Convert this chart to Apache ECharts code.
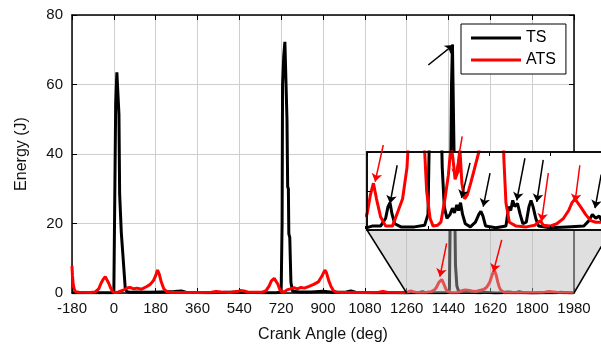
<!DOCTYPE html>
<html><head><meta charset="utf-8">
<script src="https://cdn.jsdelivr.net/npm/echarts@6/dist/echarts.min.js"></script>
<style>html,body{margin:0;padding:0;background:#fff}#c{width:601px;height:348px}</style>
</head><body><div id="c"></div>
<script>
// ---- data: [crank angle (deg), energy (J)] ----
const tsData = [[-180,0.05],[-100,0.05],[-20,0.05],[0,0.1],[6,0.3],[8,54.5],[13,63.5],[18,63.5],[22,51.5],[25,28.5],[29,28],[32,17.5],[36,17],[40,10],[44,9.5],[49,1.5],[55,0.4],[70,0.2],[100,0.3],[150,0.2],[200,0.3],[260,0.4],[290,0.6],[310,0.2],[400,0.1],[540,0.3],[560,0.2],[640,0.1],[700,0.1],[720,0.3],[724,20],[726,60],[731,68],[736,72.3],[741,72],[745,50],[748,30.6],[751,30],[753,17],[757,16],[762,3],[769,0.5],[800,0.3],[850,0.3],[900,0.5],[940,0.2],[1000,0.3],[1020,0.6],[1040,0.2],[1100,0.1],[1200,0.05],[1260,0.03],[1275,0.05],[1300,0.05],[1315,0.15],[1322,0.3],[1328,0.35],[1334,0.2],[1342,0.08],[1360,0.04],[1400,0.04],[1430,0.06],[1440,0.2],[1444,1.2],[1448,25],[1453,60],[1457,71.5],[1461,71.5],[1465,35],[1470,8],[1476,2],[1482,0.8],[1488,0.3],[1496,0.15],[1505,0.2],[1512,0.28],[1518,0.22],[1525,0.32],[1530,0.25],[1536,0.35],[1542,0.2],[1550,0.08],[1565,0.04],[1580,0.1],[1590,0.2],[1596,0.24],[1602,0.18],[1610,0.05],[1640,0.03],[1670,0.05],[1678,0.3],[1684,0.25],[1690,0.38],[1696,0.3],[1704,0.34],[1712,0.2],[1720,0.08],[1730,0.1],[1738,0.3],[1744,0.38],[1750,0.3],[1758,0.15],[1766,0.05],[1800,0.03],[1850,0.04],[1900,0.05],[1915,0.12],[1925,0.2],[1935,0.15],[1945,0.18],[1960,0.06],[1980,0.05]];

const atsData = [[-180,7.8],[-178,5],[-175,2.5],[-170,1],[-165,0.4],[-150,0.2],[-100,0.15],[-80,0.3],[-65,1.2],[-55,2.8],[-45,4],[-37,4.7],[-30,4.2],[-22,2.8],[-12,1.2],[-4,0.3],[5,0.1],[20,0.3],[40,0.8],[60,1.5],[70,1.6],[85,1.2],[100,1.4],[120,1.1],[140,1.8],[155,2.4],[170,3.5],[180,5],[188,6.6],[195,5.5],[205,3],[215,1.2],[228,0.4],[245,0.2],[300,0.15],[380,0.15],[420,0.2],[440,0.45],[460,0.3],[500,0.15],[530,0.4],[545,0.7],[560,0.6],[575,0.3],[600,0.2],[640,0.25],[655,0.7],[668,2],[678,3.5],[690,4.2],[698,3.8],[706,2.5],[714,1],[722,0.3],[735,0.4],[745,0.9],[760,1.2],[775,1.5],[790,1.2],[805,1.6],[820,1.4],[840,1.9],[860,2.5],[880,3.2],[895,4.8],[908,6.6],[915,5.8],[925,3.5],[935,1.8],[946,0.6],[960,0.2],[1000,0.15],[1060,0.15],[1100,0.15],[1140,0.2],[1158,0.45],[1175,0.2],[1240,0.15],[1260,0.2],[1270,0.45],[1279,0.6],[1288,0.4],[1300,0.17],[1315,0.05],[1335,0.05],[1348,0.2],[1365,0.4],[1378,0.8],[1388,1.6],[1398,3],[1411,3.9],[1420,2.6],[1428,1.2],[1436,0.5],[1446,0.15],[1455,0.05],[1468,0.06],[1478,0.1],[1490,0.4],[1500,0.7],[1508,1.1],[1514,0.9],[1520,0.65],[1528,0.75],[1534,1.05],[1540,0.6],[1548,0.4],[1556,0.45],[1566,0.6],[1578,0.8],[1590,1.0],[1600,1.4],[1608,2],[1618,3.2],[1628,5.3],[1637,6.6],[1645,5.2],[1652,3.2],[1658,1.8],[1664,0.9],[1670,0.35],[1680,0.1],[1700,0.05],[1730,0.04],[1755,0.06],[1765,0.1],[1772,0.12],[1780,0.06],[1800,0.05],[1820,0.08],[1840,0.15],[1855,0.25],[1865,0.35],[1874,0.4],[1880,0.36],[1890,0.3],[1905,0.2],[1920,0.12],[1935,0.1],[1950,0.1],[1965,0.08],[1980,0.08]];

const xRange = [-180, 1980], xStep = 180;
const yRange = [0, 80], yStep = 20;
const insetXRange = [1260, 1980];
const insetYRange = [0, 1], insetYStep = 0.5;
const legendNames = ['TS', 'ATS'];
const xTitle = 'Crank Angle (deg)', yTitle = 'Energy (J)';

// annotation arrows [tail, head] in data coordinates
const insetRedArrows = [[[1308,1.09],[1284,0.62]],[[1541,1.2],[1520,0.68]],[[1795,0.73],[1775,0.11]],[[1888,0.83],[1874,0.36]]];
const insetBlackArrows = [[[1349,0.83],[1328,0.34]],[[1564,0.86],[1539,0.41]],[[1623,0.73],[1603,0.30]],[[1726,0.92],[1702,0.38]],[[1780,0.90],[1761,0.36]],[[1951,0.71],[1933,0.28]]];
const mainBlackArrows = [[[1353,65.6],[1461,71.4]]];
const mainRedArrows = [[[1432,14.3],[1403,4.7]],[[1669,15.3],[1633,6.1]]];

const FONT = 'Liberation Sans, Arial, Helvetica, sans-serif';
const chart = echarts.init(document.getElementById('c'), null, {renderer: 'canvas'});

function arrowSeries(list, color, xi, yi) {
  return {
    type: 'lines', coordinateSystem: 'cartesian2d', xAxisIndex: xi, yAxisIndex: yi,
    polyline: false, clip: false, silent: true, z: 10,
    symbol: ['none', 'arrow'], symbolSize: 8,
    lineStyle: {color: color, width: 1.5, opacity: 1, curveness: 0},
    data: list.map(a => ({coords: a}))
  };
}
const plain = v => String(v);
const mainTick = {show: true, inside: true, length: 5, lineStyle: {color: '#000', width: 1}};
const option = {
  animation: false,
  backgroundColor: '#fff',
  textStyle: {fontFamily: FONT},
  grid: [
    {left: 72, top: 15, right: 27, bottom: 55, show: false, outerBoundsMode: 'none', containLabel: false},
    {left: 367, top: 152, width: 244, height: 78, show: true, backgroundColor: '#fff', borderColor: '#000', borderWidth: 1.5, z: 5, outerBoundsMode: 'none', containLabel: false}
  ],
  legend: {
    data: legendNames, orient: 'vertical', left: 461, top: 24,
    backgroundColor: '#fff', borderColor: '#000', borderWidth: 1,
    padding: [6, 10, 6, 10], itemWidth: 50, itemHeight: 3, itemGap: 6,
    icon: 'rect', textStyle: {fontSize: 16, color: '#000', fontFamily: FONT}, z: 8
  },
  xAxis: [
    {type: 'value', gridIndex: 0, min: xRange[0], max: xRange[1], interval: xStep,
     name: xTitle, nameLocation: 'middle', nameGap: 34,
     nameTextStyle: {fontSize: 16, color: '#111', fontFamily: FONT},
     axisLine: {show: true, onZero: false, lineStyle: {color: '#000', width: 1.5}},
     axisTick: mainTick,
     axisLabel: {fontSize: 15, color: '#111', margin: 8, fontFamily: FONT, formatter: plain},
     splitLine: {show: true, lineStyle: {color: '#cfcfcf', width: 1}}},
    {type: 'value', gridIndex: 0, position: 'top', min: xRange[0], max: xRange[1], interval: xStep,
     axisLine: {show: true, onZero: false, lineStyle: {color: '#000', width: 1.5}},
     axisTick: mainTick, axisLabel: {show: false}, splitLine: {show: false}},
    {type: 'value', gridIndex: 1, min: insetXRange[0], max: insetXRange[1], interval: xStep, z: 7,
     axisLine: {show: true, onZero: false, lineStyle: {color: '#000', width: 1.5}},
     axisTick: {show: true, inside: true, length: 4, lineStyle: {color: '#000'}},
     axisLabel: {show: false}, splitLine: {show: false}},
    {type: 'value', gridIndex: 1, position: 'top', min: insetXRange[0], max: insetXRange[1], interval: xStep, z: 7,
     axisLine: {show: true, onZero: false, lineStyle: {color: '#000', width: 1.5}},
     axisTick: {show: true, inside: true, length: 4, lineStyle: {color: '#000'}},
     axisLabel: {show: false}, splitLine: {show: false}}
  ],
  yAxis: [
    {type: 'value', gridIndex: 0, min: yRange[0], max: yRange[1], interval: yStep,
     name: yTitle, nameLocation: 'middle', nameGap: 42,
     nameTextStyle: {fontSize: 16, color: '#111', fontFamily: FONT},
     axisLine: {show: true, onZero: false, lineStyle: {color: '#000', width: 1.5}},
     axisTick: mainTick,
     axisLabel: {fontSize: 15, color: '#111', margin: 9, fontFamily: FONT, formatter: plain},
     splitLine: {show: true, lineStyle: {color: '#cfcfcf', width: 1}}},
    {type: 'value', gridIndex: 0, position: 'right', min: yRange[0], max: yRange[1], interval: yStep,
     axisLine: {show: true, onZero: false, lineStyle: {color: '#000', width: 1.5}},
     axisTick: mainTick, axisLabel: {show: false}, splitLine: {show: false}},
    {type: 'value', gridIndex: 1, min: insetYRange[0], max: insetYRange[1], interval: insetYStep, z: 7,
     axisLine: {show: true, onZero: false, lineStyle: {color: '#000', width: 1.5}},
     axisTick: {show: true, inside: true, length: 4, lineStyle: {color: '#000'}},
     axisLabel: {show: false}, splitLine: {show: false}}
  ],
  series: [
    {name: 'TS', type: 'line', xAxisIndex: 0, yAxisIndex: 0, data: tsData, showSymbol: false, symbol: 'none',
     lineStyle: {color: '#000', width: 3}, itemStyle: {color: '#000'}, z: 2},
    {name: 'ATS', type: 'line', xAxisIndex: 0, yAxisIndex: 0, data: atsData, showSymbol: false, symbol: 'none',
     lineStyle: {color: '#ff0000', width: 3}, itemStyle: {color: '#ff0000'}, z: 2},
    {name: 'TS', type: 'line', xAxisIndex: 2, yAxisIndex: 2, data: tsData, showSymbol: false, symbol: 'none',
     lineStyle: {color: '#000', width: 3}, itemStyle: {color: '#000'}, z: 6},
    {name: 'ATS', type: 'line', xAxisIndex: 2, yAxisIndex: 2, data: atsData, showSymbol: false, symbol: 'none',
     lineStyle: {color: '#ff0000', width: 3}, itemStyle: {color: '#ff0000'}, z: 6},
    arrowSeries(insetRedArrows, '#ff0000', 2, 2),
    arrowSeries(insetBlackArrows, '#000', 2, 2),
    arrowSeries(mainRedArrows, '#ff0000', 0, 0),
    arrowSeries(mainBlackArrows, '#000', 0, 0)
  ]
};
chart.setOption(option);

// zoom trapezoid linking main region to inset
const p0 = chart.convertToPixel({seriesIndex: 0}, [insetXRange[0], 0]);
const p1 = chart.convertToPixel({seriesIndex: 0}, [insetXRange[1], 0]);
const q0 = chart.convertToPixel({seriesIndex: 2}, [insetXRange[0], 0]);
const q1 = chart.convertToPixel({seriesIndex: 2}, [insetXRange[1], 0]);
chart.setOption({graphic: [
  {type: 'polygon', silent: true, z: 3, shape: {points: [q0, q1, p1, p0]}, style: {fill: 'rgba(184,184,184,0.45)'}},
  {type: 'line', silent: true, z: 4, shape: {x1: q0[0], y1: q0[1], x2: p0[0], y2: p0[1]}, style: {stroke: '#000', lineWidth: 1.5}},
  {type: 'line', silent: true, z: 4, shape: {x1: q1[0], y1: q1[1], x2: p1[0], y2: p1[1]}, style: {stroke: '#000', lineWidth: 1.5}}
]});
</script></body></html>
